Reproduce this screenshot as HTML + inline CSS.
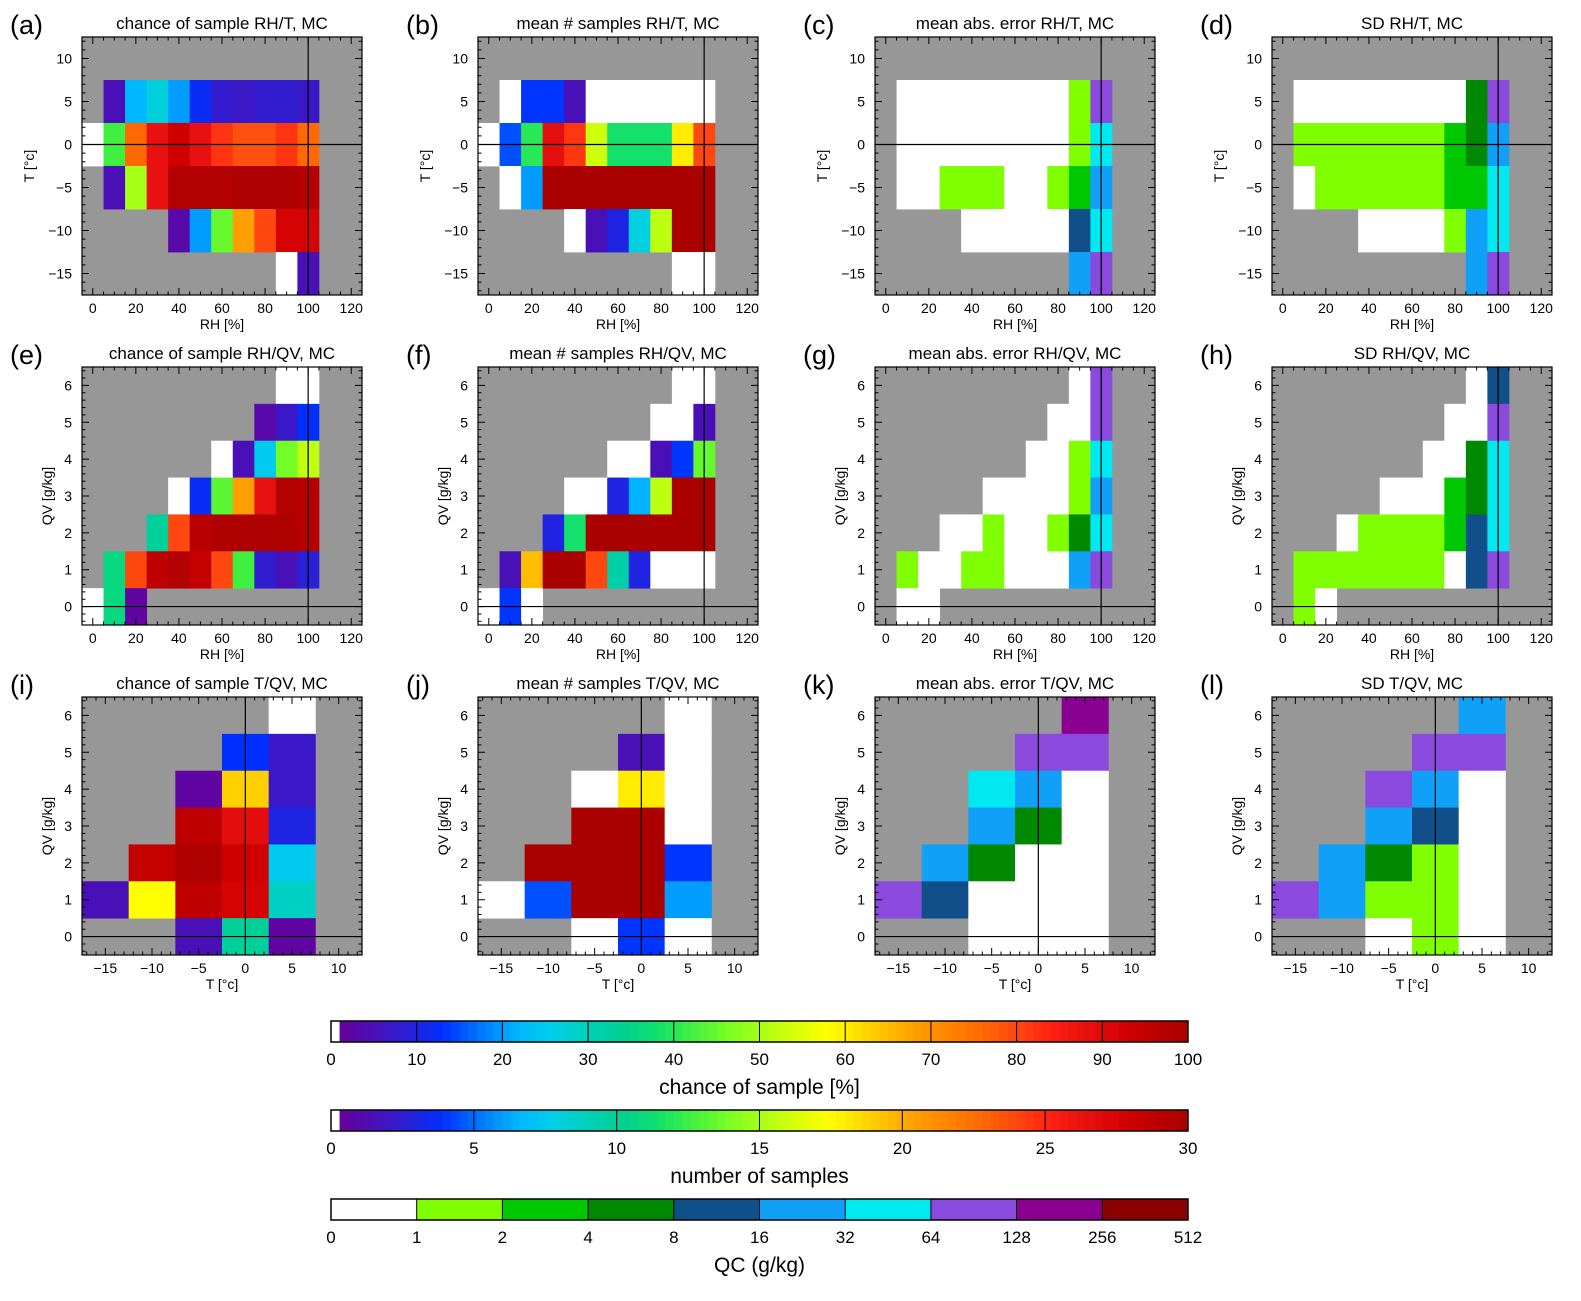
<!DOCTYPE html>
<html><head><meta charset="utf-8">
<style>
html,body{margin:0;padding:0;background:#fff;}
svg{display:block;font-family:"Liberation Sans",sans-serif;}
</style></head>
<body>
<svg id="fig" width="1581" height="1301" viewBox="0 0 1581 1301" xmlns="http://www.w3.org/2000/svg"></svg>
<script>
const N = null;
// ---- bin categories ----
const rhBins = [0,10,20,30,40,50,60,70,80,90,100,110,120];
const tRows = [10,5,0,-5,-10,-15];
const qvRows = [6,5,4,3,2,1,0];
const tCols = [-15,-10,-5,0,5,10];
// ---- tick labels ----
const rhTicks = [0,20,40,60,80,100,120];
const tTicks = [-15,-10,-5,0,5,10];
const qvTicks = [0,1,2,3,4,5,6];
const chanceTicks = [0,10,20,30,40,50,60,70,80,90,100];
const sampleTicks = [0,5,10,15,20,25,30];
const qcTicks = ['0','1','2','4','8','16','32','64','128','256','512'];
// ---- data: chance of sample [%] RH/T (rows T=10..-15, cols RH=0..120) ----
const chanceRHT = [
 [N,N,N,N,N,N,N,N,N,N,N,N,N],
 [N,5,22,27,20,12,8,7,8,8,7,N,N],
 [0,42,76,88,93,88,82,79,79,82,76,N,N],
 [N,5,50,88,98,98,98,99,99,99,97,N,N],
 [N,N,N,N,3,20,45,68,80,92,92,N,N],
 [N,N,N,N,N,N,N,N,N,0,5,N,N]];
const samplesRHT = [
 [N,N,N,N,N,N,N,N,N,N,N,N,N],
 [N,0,4,4,1.5,0,0,0,0,0,0,N,N],
 [0,4.5,12,26.5,24.5,16,11.5,11.5,11.5,18,24,N,N],
 [N,0,6,30,30,30,30,30,30,30,30,N,N],
 [N,N,N,N,0,1.5,3,8,15.5,30,30,N,N],
 [N,N,N,N,N,N,N,N,N,0,0,N,N]];
const maeRHT = [
 [N,N,N,N,N,N,N,N,N,N,N,N,N],
 [N,0,0,0,0,0,0,0,0,1,7,N,N],
 [N,0,0,0,0,0,0,0,0,1,6,N,N],
 [N,0,0,1,1,1,0,0,1,2,5,N,N],
 [N,N,N,N,0,0,0,0,0,4,6,N,N],
 [N,N,N,N,N,N,N,N,N,5,7,N,N]];
const sdRHT = [
 [N,N,N,N,N,N,N,N,N,N,N,N,N],
 [N,0,0,0,0,0,0,0,0,3,7,N,N],
 [N,1,1,1,1,1,1,1,2,3,5,N,N],
 [N,0,1,1,1,1,1,1,2,2,6,N,N],
 [N,N,N,N,0,0,0,0,1,5,6,N,N],
 [N,N,N,N,N,N,N,N,N,5,7,N,N]];
// ---- RH/QV (rows QV=6..0) ----
const chanceRHQV = [
 [N,N,N,N,N,N,N,N,N,0,0,N,N],
 [N,N,N,N,N,N,N,N,3,7,13,N,N],
 [N,N,N,N,N,N,0,5,25,46,52,N,N],
 [N,N,N,N,0,12,44,68,88,98,97,N,N],
 [N,N,N,33,80,97,99,99,99,99,97,N,N],
 [N,36,80,96,98,95,80,42,8,5,9,N,N],
 [0,36,2,N,N,N,N,N,N,N,N,N,N]];
const samplesRHQV = [
 [N,N,N,N,N,N,N,N,N,0,0,N,N],
 [N,N,N,N,N,N,N,N,0,0,1.5,N,N],
 [N,N,N,N,N,N,0,0,1.5,4,13.5,N,N],
 [N,N,N,N,0,0,3,6.5,15.5,30,30,N,N],
 [N,N,N,3,11.5,30,30,30,30,30,30,N,N],
 [N,1.5,19.5,30,30,24,9.5,3,0,0,0,N,N],
 [0,4,0,N,N,N,N,N,N,N,N,N,N]];
const maeRHQV = [
 [N,N,N,N,N,N,N,N,N,0,7,N,N],
 [N,N,N,N,N,N,N,N,0,0,7,N,N],
 [N,N,N,N,N,N,N,0,0,1,6,N,N],
 [N,N,N,N,N,0,0,0,0,1,5,N,N],
 [N,N,N,0,0,1,0,0,1,3,6,N,N],
 [N,1,0,0,1,1,0,0,0,5,7,N,N],
 [N,0,0,N,N,N,N,N,N,N,N,N,N]];
const sdRHQV = [
 [N,N,N,N,N,N,N,N,N,0,4,N,N],
 [N,N,N,N,N,N,N,N,0,0,7,N,N],
 [N,N,N,N,N,N,N,0,0,3,6,N,N],
 [N,N,N,N,N,0,0,0,2,3,6,N,N],
 [N,N,N,0,1,1,1,1,2,4,6,N,N],
 [N,1,1,1,1,1,1,1,0,4,7,N,N],
 [N,1,0,N,N,N,N,N,N,N,N,N,N]];
// ---- T/QV (rows QV=6..0, cols T=-15..10) ----
const chanceTQV = [
 [N,N,N,N,0,N],
 [N,N,N,13,7,N],
 [N,N,2,63,7,N],
 [N,N,96,89,10,N],
 [N,95,99,93,25,N],
 [5,58,96,92,29,N],
 [N,N,5,33,2,N]];
const samplesTQV = [
 [N,N,N,N,0,N],
 [N,N,N,1.5,0,N],
 [N,N,0,18,0,N],
 [N,N,30,30,0,N],
 [N,30,30,30,4,N],
 [0,4.5,30,30,6,N],
 [N,N,0,4,0,N]];
const maeTQV = [
 [N,N,N,N,8,N],
 [N,N,N,7,7,N],
 [N,N,6,5,0,N],
 [N,N,5,3,0,N],
 [N,5,3,0,0,N],
 [7,4,0,0,0,N],
 [N,N,0,0,0,N]];
const sdTQV = [
 [N,N,N,N,5,N],
 [N,N,N,7,7,N],
 [N,N,7,5,0,N],
 [N,N,5,4,0,N],
 [N,5,3,1,0,N],
 [7,5,1,1,0,N],
 [N,N,0,1,0,N]];

// ---- styling / colormaps ----
const stops = [[0,'#ffffff'],[0.008,'#ffffff'],[0.0081,'#6a0099'],[0.05,'#4a10b8'],[0.09,'#2a20d8'],[0.13,'#0030ff'],[0.18,'#0080ff'],[0.22,'#00b8ff'],[0.26,'#00d0e8'],[0.30,'#00d0b8'],[0.34,'#00d090'],[0.38,'#10e070'],[0.42,'#40f040'],[0.47,'#80ff20'],[0.52,'#c0ff10'],[0.58,'#ffff00'],[0.63,'#ffd000'],[0.68,'#ffa000'],[0.75,'#ff7000'],[0.80,'#ff4810'],[0.84,'#ff2010'],[0.88,'#e81010'],[0.93,'#d00000'],[0.97,'#b80000'],[1,'#aa0000']];
const qcColors = ['#ffffff','#80ff00','#00c800','#008800','#114f8a','#10a0f8','#00e8f0','#8a4ade','#8a0090','#8b0000'];
const GRAY = '#979797';
function hex(c){return [parseInt(c.substr(1,2),16),parseInt(c.substr(3,2),16),parseInt(c.substr(5,2),16)];}
function rainbow(f){
  if(f<=0) return '#ffffff';
  f=Math.min(1,f);
  for(let i=1;i<stops.length;i++){
    if(f<=stops[i][0]){
      const a=stops[i-1],b=stops[i];const t=(f-a[0])/(b[0]-a[0]||1);
      const A=hex(a[1]),B=hex(b[1]);
      return 'rgb('+A.map((v,k)=>Math.round(v+(B[k]-v)*t)).join(',')+')';
    }
  }
  return stops[stops.length-1][1];
}
const svg=document.getElementById('fig');
const NS='http://www.w3.org/2000/svg';
function mk(tag,attrs,parent){const e=document.createElementNS(NS,tag);for(const k in attrs)e.setAttribute(k,attrs[k]);(parent||svg).appendChild(e);return e;}

const colLeft=[82,478,875,1272], rowTop=[37,367,697], W=280, H=258;
const rhAxis={min:-5,max:125,bin:10,ticks:rhTicks,minor:5,title:'RH [%]',cats:rhBins,ref:100};
const tyAxis={min:-17.5,max:12.5,bin:5,ticks:tTicks,minor:1,title:'T [°c]',cats:tRows,ref:0};
const qvAxis={min:-0.5,max:6.5,bin:1,ticks:qvTicks,minor:0.2,title:'QV [g/kg]',cats:qvRows,ref:0};
const txAxis={min:-17.5,max:12.5,bin:5,ticks:tTicks,minor:1,title:'T [°c]',cats:tCols,ref:0};

const panels=[
 {lab:'a',title:'chance of sample RH/T, MC',data:chanceRHT,kind:'c',max:100,r:0,c:0,xa:rhAxis,ya:tyAxis},
 {lab:'b',title:'mean # samples RH/T, MC',data:samplesRHT,kind:'c',max:30,r:0,c:1,xa:rhAxis,ya:tyAxis},
 {lab:'c',title:'mean abs. error RH/T, MC',data:maeRHT,kind:'q',r:0,c:2,xa:rhAxis,ya:tyAxis},
 {lab:'d',title:'SD RH/T, MC',data:sdRHT,kind:'q',r:0,c:3,xa:rhAxis,ya:tyAxis},
 {lab:'e',title:'chance of sample RH/QV, MC',data:chanceRHQV,kind:'c',max:100,r:1,c:0,xa:rhAxis,ya:qvAxis},
 {lab:'f',title:'mean # samples RH/QV, MC',data:samplesRHQV,kind:'c',max:30,r:1,c:1,xa:rhAxis,ya:qvAxis},
 {lab:'g',title:'mean abs. error RH/QV, MC',data:maeRHQV,kind:'q',r:1,c:2,xa:rhAxis,ya:qvAxis},
 {lab:'h',title:'SD RH/QV, MC',data:sdRHQV,kind:'q',r:1,c:3,xa:rhAxis,ya:qvAxis},
 {lab:'i',title:'chance of sample T/QV, MC',data:chanceTQV,kind:'c',max:100,r:2,c:0,xa:txAxis,ya:qvAxis},
 {lab:'j',title:'mean # samples T/QV, MC',data:samplesTQV,kind:'c',max:30,r:2,c:1,xa:txAxis,ya:qvAxis},
 {lab:'k',title:'mean abs. error T/QV, MC',data:maeTQV,kind:'q',r:2,c:2,xa:txAxis,ya:qvAxis},
 {lab:'l',title:'SD T/QV, MC',data:sdTQV,kind:'q',r:2,c:3,xa:txAxis,ya:qvAxis}];

panels.forEach(p=>{
  const x0=colLeft[p.c], y0=rowTop[p.r];
  const xs=v=>x0+(v-p.xa.min)/(p.xa.max-p.xa.min)*W;
  const ys=v=>y0+(p.ya.max-v)/(p.ya.max-p.ya.min)*H;
  const g=mk('g',{});
  
  
  const bg=mk('rect',{x:x0,y:y0,width:W,height:H,fill:GRAY},g);
  
  
  p.data.forEach((row,ri)=>{
    const yv=p.ya.cats[ri];
    row.forEach((v,ci)=>{
      if(v===null) return;
      const xv=p.xa.cats[ci];
      const xa=xs(xv-p.xa.bin/2), xb=xs(xv+p.xa.bin/2);
      const ya=ys(yv+p.ya.bin/2), yb=ys(yv-p.ya.bin/2);
      const L=Math.max(xa,x0),R=Math.min(xb,x0+W),T=Math.max(ya,y0),B=Math.min(yb,y0+H);
      const col=p.kind==='c'?rainbow(v/p.max):qcColors[v];
      const cell=mk('rect',{x:L.toFixed(2),y:T.toFixed(2),width:(R-L+0.4).toFixed(2),height:(B-T+0.4).toFixed(2),fill:col},g);
      
      
    });
  });
  // reference lines
  const vl=mk('line',{x1:xs(p.xa.ref),x2:xs(p.xa.ref),y1:y0,y2:y0+H,stroke:'#000','stroke-width':1.2},g);
  
  
  const hl=mk('line',{x1:x0,x2:x0+W,y1:ys(p.ya.ref),y2:ys(p.ya.ref),stroke:'#000','stroke-width':1.2},g);
  
  
  // frame
  const fr=mk('rect',{x:x0,y:y0,width:W,height:H,fill:'none',stroke:'#000','stroke-width':1.2},g);
  
  
  // ticks
  let d='';
  for(let v=Math.ceil(p.xa.min/p.xa.minor)*p.xa.minor; v<=p.xa.max+1e-9; v+=p.xa.minor){
    const isMaj=Math.abs(v/ (p.xa.ticks[1]-p.xa.ticks[0]) - Math.round(v/(p.xa.ticks[1]-p.xa.ticks[0])))<1e-6;
    const len=isMaj?7:3.5, x=xs(v).toFixed(2);
    d+=`M${x} ${y0+H}v${-len}M${x} ${y0}v${len}`;
  }
  for(let v=Math.ceil(p.ya.min/p.ya.minor)*p.ya.minor; v<=p.ya.max+1e-9; v+=p.ya.minor){
    const st=p.ya.ticks[1]-p.ya.ticks[0];
    const isMaj=Math.abs(v/st-Math.round(v/st))<1e-6;
    const len=isMaj?7:3.5, y=ys(v).toFixed(2);
    d+=`M${x0} ${y}h${len}M${x0+W} ${y}h${-len}`;
  }
  const tk=mk('path',{d:d,stroke:'#000','stroke-width':1,fill:'none'},g);
  
  
  p.xa.ticks.forEach(v=>{
    const t=mk('text',{x:xs(v),y:y0+H+18,'text-anchor':'middle','font-size':14},g);
    t.textContent=v<0?'\u2212'+(-v):String(v);
    
    
  });
  p.ya.ticks.forEach(v=>{
    const t=mk('text',{x:x0-10,y:ys(v)+5,'text-anchor':'end','font-size':14},g);
    t.textContent=v<0?'\u2212'+(-v):String(v);
    
    
  });
  const xt=mk('text',{x:x0+W/2,y:y0+H+34,'text-anchor':'middle','font-size':14},g);
  xt.textContent=p.xa.title;
  
  
  const yx=p.ya===tyAxis?x0-48:x0-30, yy=y0+H/2;
  const yt=mk('text',{x:yx,y:yy,'text-anchor':'middle','font-size':14,transform:`rotate(-90 ${yx} ${yy})`},g);
  yt.textContent=p.ya.title;
  
  
  const tt=mk('text',{x:x0+W/2,y:y0-8,'text-anchor':'middle','font-size':17},g);
  tt.textContent=p.title;
  
  
  const pl=mk('text',{x:x0-72,y:y0-3,'font-size':27,'font-weight':'300'},g);
  pl.textContent='('+p.lab+')';
  
  
});

// ---- colorbars ----
const cbX=331, cbW=857, cbH=21;
function colorbar(y,labels,title,name,discrete){
  const g=mk('g',{});
  
  
  if(discrete){
    qcColors.forEach((c,i)=>{
      const r=mk('rect',{x:cbX+i*cbW/10,y:y,width:cbW/10+0.5,height:cbH,fill:c},g);
      
      
    });
  } else {
    const n=100;
    for(let i=0;i<n;i++){
      const r=mk('rect',{x:cbX+i*cbW/n,y:y,width:cbW/n+0.5,height:cbH,fill:rainbow((i+0.5)/n)},g);
      
      
    }
  }
  const fr=mk('rect',{x:cbX,y:y,width:cbW,height:cbH,fill:'none',stroke:'#000','stroke-width':1.5},g);
  
  
  const n=labels.length-1;
  let d='';
  labels.forEach((l,i)=>{
    const x=cbX+i*cbW/n;
    if(i>0&&i<n) d+=`M${x} ${y}v${cbH}`;
    const t=mk('text',{x:x,y:y+cbH+23,'text-anchor':'middle','font-size':17},g);
    t.textContent=String(l);
    
    
  });
  const tk=mk('path',{d:d,stroke:'#000','stroke-width':1},g);
  
  
  const tt=mk('text',{x:cbX+cbW/2,y:y+cbH+52,'text-anchor':'middle','font-size':21},g);
  tt.textContent=title;
  
  
}
colorbar(1021,chanceTicks,'chance of sample [%]','colorbar-chance',false);
colorbar(1110,sampleTicks,'number of samples','colorbar-samples',false);
colorbar(1199,qcTicks,'QC (g/kg)','colorbar-qc',true);
</script>
</body></html>
